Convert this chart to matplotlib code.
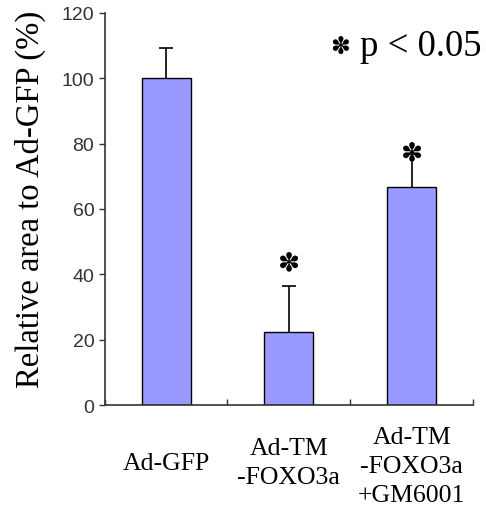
import matplotlib
matplotlib.use("Agg")
import matplotlib.pyplot as plt
import numpy as np

# data
groups = ["Ad-GFP", "Ad-TM\n-FOXO3a", "Ad-TM\n-FOXO3a\n+GM6001"]
values = np.array([100, 22.3, 66.6])
errors = np.array([9.2, 14.2, 10.2])
star_y = [None, 43.8, 77.4]   # where the significance stars sit

fig = plt.figure(figsize=(4.86, 5.06), dpi=100)
ax = fig.add_axes([0.2154, 0.1976, 0.758, 0.775])

x = np.arange(len(groups))
ax.bar(x, values, width=0.4, color="#9999FF", edgecolor="black", linewidth=1, zorder=2)
# upper error bars only
ax.vlines(x, values, values + errors, color="black", linewidth=1.2, zorder=1)
ax.hlines(values + errors, x - 0.055, x + 0.055, color="black", linewidth=1.2, zorder=1)

for xi, sy in zip(x, star_y):
    if sy is not None:
        ax.text(xi, sy, "\u273D", ha="center", va="center",
                fontsize=19, family="DejaVu Sans", color="black", zorder=3)

# legend note: star + text
ax.text(0.64, 0.915, "\u273D", transform=ax.transAxes, ha="center", va="center",
        fontsize=17, family="DejaVu Sans")
ax.text(0.692, 0.893, "p < 0.05", transform=ax.transAxes, ha="left", va="baseline",
        fontsize=26.5, family="Liberation Serif")

ax.set_xlim(-0.5, 2.5)
ax.set_ylim(0, 120)
ax.set_yticks(range(0, 121, 20))
ax.set_xticks([-0.5, 0.5, 1.5, 2.5])
ax.set_xticklabels([])
label_y = [-17.7, -17.7, -18.6]
for xi, g, ly in zip(x, groups, label_y):
    ax.text(xi, ly, g, ha="center", va="center", fontsize=18.5,
            family="Liberation Serif", linespacing=1.4)

ax.spines["top"].set_visible(False)
ax.spines["right"].set_visible(False)
for sp in ["left", "bottom"]:
    ax.spines[sp].set_color("#333333")
    ax.spines[sp].set_linewidth(1.2)
ax.tick_params(axis="y", direction="out", length=4, width=1, colors="#333333",
               labelsize=14)
ax.tick_params(axis="x", direction="in", length=4, width=1, colors="#333333")
for lbl in ax.get_yticklabels():
    lbl.set_family("Liberation Sans")

ax.set_ylabel("Relative area to Ad-GFP (%)", fontsize=23.5, family="Liberation Serif")
ax.yaxis.set_label_coords(-0.203, 0.528)
ax.yaxis.label.set_va("center")

fig.savefig("out.png", dpi=100)
